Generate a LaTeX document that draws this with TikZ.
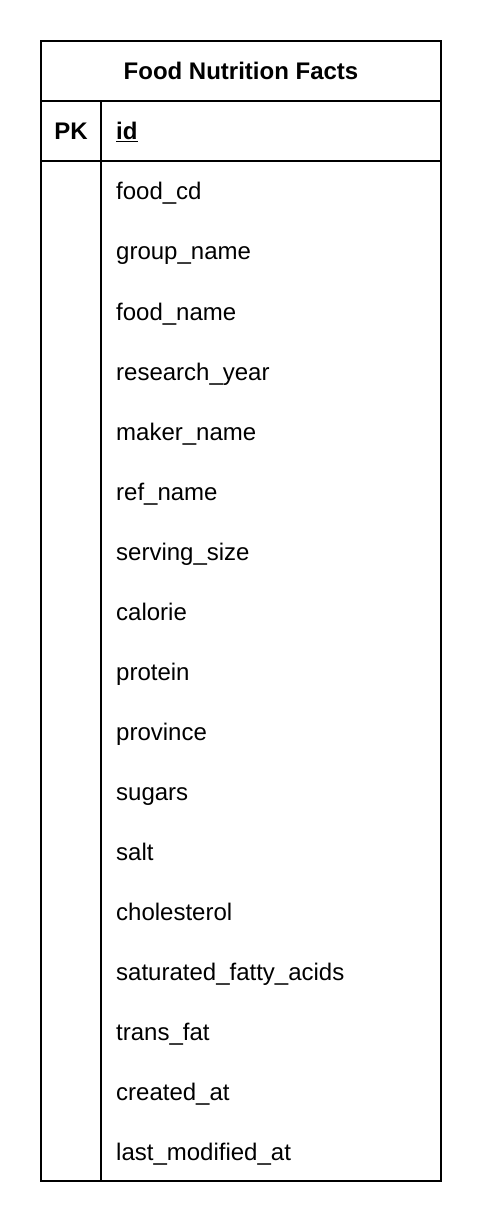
\documentclass[tikz,border=0pt]{standalone}
\usepackage{fontspec}
\setmainfont{Liberation Sans}
\usetikzlibrary{positioning}
\begin{document}
\begin{tikzpicture}[
    x=1pt, y=-1pt,
    field/.style={anchor=west, inner sep=0pt, text height=17pt, text depth=5pt, font=\fontsize{24}{28}\selectfont},
    keyfield/.style={field, font=\fontsize{24}{28}\selectfont\bfseries},
    grid/.style={line width=2pt}
]
\useasboundingbox (0,0) rectangle (482,1222);
% table frame
\draw[grid] (41,41) rectangle (441,1181);
\draw[grid] (41,101) -- (441,101);
\draw[grid] (41,161) -- (441,161);
\draw[grid] (101,101) -- (101,1181);
% header and key
\node[keyfield, anchor=center] (title) at (241,74) {Food Nutrition Facts};
\node[keyfield, anchor=center] (pk) at (71,134) {PK};
\node[keyfield] (id) at (116,134) {\underline{id}};
% columns
\foreach \name [count=\i from 0] in {food\_cd, group\_name, food\_name, research\_year,
    maker\_name, ref\_name, serving\_size, calorie, protein, province, sugars, salt,
    cholesterol, saturated\_fatty\_acids, trans\_fat, created\_at, last\_modified\_at} {
    \node[field] (f\i) at (116,194+60*\i) {\name};
}
\end{tikzpicture}
\end{document}
